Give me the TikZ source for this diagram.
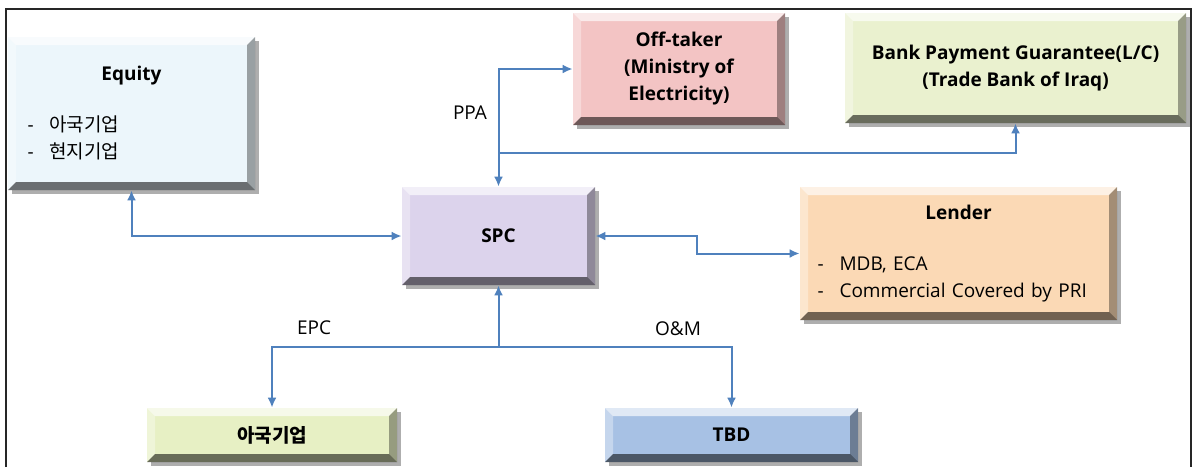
\documentclass[tikz,border=0pt]{standalone}
\usepackage{fontspec}
\setmainfont{Open Sans}
\newfontfamily\kr{Noto Sans CJK KR}
\usetikzlibrary{arrows.meta,calc,shadows}
\definecolor{linkblue}{RGB}{79,129,189}
\definecolor{equityfill}{RGB}{236,246,251}
\definecolor{offtakerfill}{RGB}{243,196,196}
\definecolor{bankfill}{RGB}{234,241,207}
\definecolor{spcfill}{RGB}{220,211,236}
\definecolor{lenderfill}{RGB}{251,217,181}
\definecolor{epcfill}{RGB}{231,240,196}
\definecolor{tbdfill}{RGB}{167,193,228}
\newcommand{\bw}{4pt}
\newcommand{\bul}{\makebox[11pt][l]{-}}

\tikzset{
  box/.style={inner sep=0pt, font=\fontsize{9.5}{13.5}\selectfont,
    drop shadow={shadow xshift=2pt, shadow yshift=-2pt, opacity=.45, fill=black!70},
    path picture={
      \path (path picture bounding box.south west) coordinate (sw)
            (path picture bounding box.north east) coordinate (ne);
      \fill[white,opacity=.65] (sw|-ne) -- (ne) -- ($(ne)+(-\bw,-\bw)$) -- ($(sw|-ne)+(\bw,-\bw)$) -- cycle;
      \fill[white,opacity=.35] (sw) -- (sw|-ne) -- ($(sw|-ne)+(\bw,-\bw)$) -- ($(sw)+(\bw,\bw)$) -- cycle;
      \fill[black,opacity=.35] (ne) -- (ne|-sw) -- ($(ne|-sw)+(-\bw,\bw)$) -- ($(ne)+(-\bw,-\bw)$) -- cycle;
      \fill[black,opacity=.55] (sw) -- (ne|-sw) -- ($(ne|-sw)+(-\bw,\bw)$) -- ($(sw)+(\bw,\bw)$) -- cycle;
    }},
  link/.style={draw=linkblue, line width=1pt, {Latex[length=5pt,width=4.5pt]}-{Latex[length=5pt,width=4.5pt]}},
  tag/.style={font=\fontsize{9.5}{11}\selectfont, inner sep=0pt},
}

\begin{document}
\begin{tikzpicture}[x=0.5pt, y=-0.5pt]
  \useasboundingbox (0,0) rectangle (1192,467);
  \fill[white] (0,0) rectangle (1192,467);
  \draw[line width=1pt, black!85] (6,467) -- (6,9) -- (1191,9) -- (1191,467);

  % parties
  \node[box, fill=equityfill, minimum width=123.5pt, minimum height=76.5pt,
    text width=104pt, align=left] (equity) at (131.5,113.5)
    {\centerline{\textbf{Equity}}\\[12pt]\bul{\kr 아국기업}\\\bul{\kr 현지기업}};
  \node[box, fill=offtakerfill, minimum width=106pt, minimum height=56pt,
    align=center, font=\fontsize{9.5}{13.5}\selectfont\bfseries] (offtaker) at (679,69)
    {Off-taker\\(Ministry of\\Electricity)};
  \node[box, fill=bankfill, minimum width=170.5pt, minimum height=55pt,
    align=center, font=\fontsize{9.5}{13.5}\selectfont\bfseries] (bank) at (1015.5,68)
    {Bank Payment Guarantee(L/C)\\(Trade Bank of Iraq)};
  \node[box, fill=spcfill, minimum width=96.5pt, minimum height=49pt,
    font=\fontsize{9.5}{13.5}\selectfont\bfseries] (spc) at (498.5,236) {SPC};
  \node[box, fill=lenderfill, minimum width=158.5pt, minimum height=66.5pt,
    text width=141pt, align=left] (lender) at (958.5,253.5)
    {\centerline{\textbf{Lender}}\\[12pt]\bul MDB, ECA\\\bul Commercial Covered by PRI};
  \node[box, fill=epcfill, minimum width=125pt, minimum height=27pt,
    font=\fontsize{9.5}{13.5}\selectfont\bfseries] (epc) at (272,435) {\kr\bfseries 아국기업};
  \node[box, fill=tbdfill, minimum width=126.5pt, minimum height=27pt,
    font=\fontsize{9.5}{13.5}\selectfont\bfseries] (tbd) at (731.5,435) {TBD};

  % contracts
  \coordinate (bankfork) at (498.5,153);
  \coordinate (omfork) at (498.5,347);
  \draw[link] (equity.south) |- (spc.west);
  \draw[link] (offtaker.west) -| (spc.north);
  \draw[link, {}-{Latex[length=5pt,width=4.5pt]}] (bankfork) -| (bank.south);
  \draw[link] (spc.east) -- ++(102,0) |- (lender.west);
  \draw[link, {}-{Latex[length=5pt,width=4.5pt]}] (omfork) -- (spc.south);
  \draw[link] (epc.north) |- (omfork) -| (tbd.north);

  \node[tag] (ppa) at (470,113) {PPA};
  \node[tag] (epclabel) at (314,328) {EPC};
  \node[tag] (omlabel) at (678,329) {O\&M};
\end{tikzpicture}
\end{document}
